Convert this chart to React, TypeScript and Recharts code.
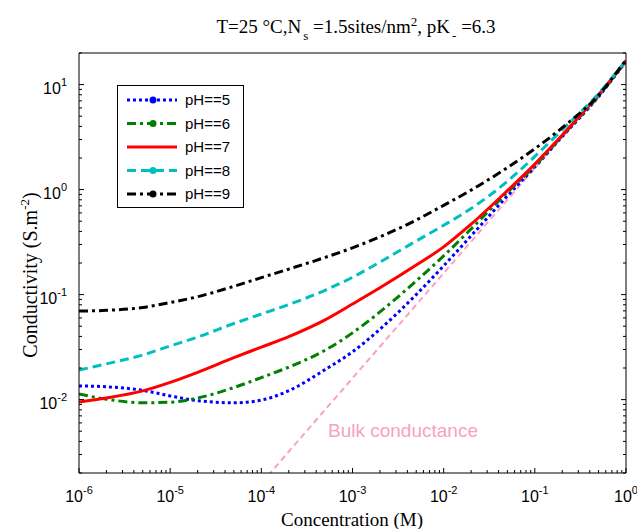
import React from 'react';
import { LineChart, Line, XAxis, YAxis, Legend } from 'recharts';

// concentration (M) at which the curves were read
const concentration = [1e-6, 2e-6, 5e-6, 1e-5, 2e-5, 5e-5, 1e-4, 2e-4, 5e-4, 1e-3, 2e-3, 5e-3, 1e-2, 2e-2, 5e-2, 0.1, 0.2, 0.5, 1];

// conductivity (S.m^-2) per pH
const ph5 = [0.0135, 0.01325, 0.01225, 0.01084, 0.00977, 0.00933, 0.00989, 0.01216, 0.0193, 0.0285, 0.0468, 0.1, 0.188, 0.363, 0.871, 1.64, 3.2, 7.67, 16.7];
const ph6 = [0.0113, 0.0101, 0.00933, 0.00944, 0.01035, 0.01303, 0.0162, 0.0204, 0.0295, 0.0432, 0.0684, 0.135, 0.234, 0.422, 0.944, 1.68, 3.25, 7.8, 16.8];
const ph7 = [0.00948, 0.01035, 0.0121, 0.0146, 0.0182, 0.0251, 0.0316, 0.0398, 0.0575, 0.0813, 0.116, 0.191, 0.285, 0.468, 0.977, 1.75, 3.31, 8.0, 16.9];
const ph8 = [0.0191, 0.0219, 0.0266, 0.0324, 0.0394, 0.0531, 0.0653, 0.0804, 0.11, 0.146, 0.204, 0.324, 0.457, 0.661, 1.2, 2.07, 3.72, 8.22, 17.0];
const ph9 = [0.0698, 0.0708, 0.0755, 0.0841, 0.0955, 0.12, 0.145, 0.175, 0.226, 0.279, 0.355, 0.513, 0.708, 0.989, 1.62, 2.45, 3.89, 7.94, 17.2];

// bulk conductance line
const bulkConcentration = [1e-4, 1e-3, 1e-2, 1e-1, 1];
const bulkConductivity = [0.0016, 0.016, 0.16, 1.6, 16];

const seriesKeys = ['ph5', 'ph6', 'ph7', 'ph8', 'ph9'];
const seriesNames = ['pH==5', 'pH==6', 'pH==7', 'pH==8', 'pH==9'];
const seriesColors = ['#0000ff', '#008000', '#ff0000', '#00bfbf', '#000000'];
const seriesDash = ['3 3', '9 4 3 4', undefined, '9 5', '9 4 3 4'];
const seriesMarker = [true, true, false, true, true];

const xMajor = [1e-6, 1e-5, 1e-4, 1e-3, 1e-2, 1e-1, 1];
const xMajorExp = ['-6', '-5', '-4', '-3', '-2', '-1', '0'];
const yMajor = [0.01, 0.1, 1, 10];
const yMajorExp = ['-2', '-1', '0', '1'];

const data = concentration.map((c, i) => ({ c, ph5: ph5[i], ph6: ph6[i], ph7: ph7[i], ph8: ph8[i], ph9: ph9[i] }));
const bulkData = bulkConcentration.map((c, i) => ({ c, bulk: bulkConductivity[i] }));

function minorTicks(decades: number[], max: number) {
  const out: number[] = [];
  decades.forEach((d) => {
    for (let m = 2; m <= 9; m++) {
      const v = m * Math.pow(10, d);
      if (v <= max * 1.0001) out.push(v);
    }
  });
  return out;
}

const xTicks = [...xMajor, ...minorTicks([-6, -5, -4, -3, -2, -1], 1)];
const yTicks = [...yMajor, ...minorTicks([-3, -2, -1, 0, 1], 20)];

const majorIndex = (list: number[], v: number) =>
  list.findIndex((m) => Math.abs(Math.log10(m) - Math.log10(v)) < 1e-6);

const sans = 'Liberation Sans, Arial, sans-serif';
const serif = 'Liberation Serif, Times New Roman, serif';

const XTick = (side: 'bottom' | 'top') => (props: any) => {
  const { x, y, payload } = props;
  const i = majorIndex(xMajor, payload.value);
  const len = i >= 0 ? 5 : 3;
  const dir = side === 'bottom' ? -1 : 1;
  return (
    <g>
      <line x1={x} x2={x} y1={y} y2={y + dir * len} stroke="#000" />
      {side === 'bottom' && i >= 0 && (
        <text x={x} y={y + 29} textAnchor="middle" fontSize={16} fontFamily={sans} fill="#000">
          10<tspan dy={-8} fontSize={11}>{xMajorExp[i]}</tspan>
        </text>
      )}
    </g>
  );
};

const YTick = (side: 'left' | 'right') => (props: any) => {
  const { x, y, payload } = props;
  const i = majorIndex(yMajor, payload.value);
  const len = i >= 0 ? 5 : 3;
  const dir = side === 'left' ? 1 : -1;
  return (
    <g>
      <line x1={x} x2={x + dir * len} y1={y} y2={y} stroke="#000" />
      {side === 'left' && i >= 0 && (
        <text x={x - 12} y={y + 9} textAnchor="end" fontSize={16} fontFamily={sans} fill="#000">
          10<tspan dy={-8} fontSize={11}>{yMajorExp[i]}</tspan>
        </text>
      )}
    </g>
  );
};

function LegendBox() {
  return (
    <svg width={128} height={124} style={{ display: 'block' }}>
      <rect x={0.5} y={0.5} width={126} height={122} fill="#fff" stroke="#000" />
      {seriesNames.map((name, i) => {
        const y = 15 + i * 23.5;
        return (
          <g key={name}>
            <line x1={10} x2={60} y1={y} y2={y} stroke={seriesColors[i]} strokeWidth={3} strokeDasharray={seriesDash[i]} />
            {seriesMarker[i] && <circle cx={36} cy={y} r={3.5} fill={seriesColors[i]} />}
            <text x={68} y={y + 5} fontSize={15} fontFamily={sans} fill="#000">{name}</text>
          </g>
        );
      })}
    </svg>
  );
}

export default function App() {
  return (
    <div style={{ position: 'absolute', left: 0, top: 0, background: '#fff' }}>
      <LineChart width={637} height={529} data={data} margin={{ top: 0, right: 0, bottom: 0, left: 0 }}>
        <XAxis
          xAxisId="b"
          dataKey="c"
          type="number"
          scale="log"
          domain={[1e-6, 1]}
          allowDataOverflow
          ticks={xTicks}
          interval={0}
          tickSize={0}
          tickMargin={0}
          tickLine={false}
          tick={XTick('bottom')}
          height={56}
          axisLine={{ stroke: '#000' }}
        />
        <XAxis
          xAxisId="t"
          orientation="top"
          type="number"
          scale="log"
          domain={[1e-6, 1]}
          allowDataOverflow
          ticks={xTicks}
          interval={0}
          tickSize={0}
          tickMargin={0}
          tickLine={false}
          tick={XTick('top')}
          height={53}
          axisLine={{ stroke: '#000' }}
        />
        <YAxis
          yAxisId="l"
          type="number"
          scale="log"
          domain={[0.002, 20]}
          allowDataOverflow
          ticks={yTicks}
          interval={0}
          tickSize={0}
          tickMargin={0}
          tickLine={false}
          tick={YTick('left')}
          width={79}
          axisLine={{ stroke: '#000' }}
        />
        <YAxis
          yAxisId="r"
          orientation="right"
          type="number"
          scale="log"
          domain={[0.002, 20]}
          allowDataOverflow
          ticks={yTicks}
          interval={0}
          tickSize={0}
          tickMargin={0}
          tickLine={false}
          tick={YTick('right')}
          width={11}
          axisLine={{ stroke: '#000' }}
        />
        <Line
          xAxisId="b"
          yAxisId="l"
          data={bulkData}
          dataKey="bulk"
          stroke="#f9a0c8"
          strokeWidth={2}
          strokeDasharray="6 4"
          dot={false}
          legendType="none"
          isAnimationActive={false}
        />
        {seriesKeys.map((k, i) => (
          <Line
            key={k}
            xAxisId="b"
            yAxisId="l"
            type="monotone"
            dataKey={k}
            name={seriesNames[i]}
            stroke={seriesColors[i]}
            strokeWidth={3}
            strokeDasharray={seriesDash[i]}
            dot={false}
            isAnimationActive={false}
          />
        ))}
        <Legend
          layout="vertical"
          align="center"
          verticalAlign="middle"
          content={LegendBox}
          wrapperStyle={{ left: 117, top: 85, width: 128, height: 124 }}
        />
        <text x={356} y={33} textAnchor="middle" fontSize={19} fontFamily={serif} fill="#000">
          T=25 °C,N<tspan dx={2} dy={7} fontSize={13}>s</tspan>
          <tspan dy={-7}> =1.5sites/nm</tspan>
          <tspan dy={-7} fontSize={13}>2</tspan>
          <tspan dy={7}>, pK</tspan>
          <tspan dx={2} dy={7} fontSize={13}>-</tspan>
          <tspan dy={-7}> =6.3</tspan>
        </text>
        <text x={352} y={526} textAnchor="middle" fontSize={19} fontFamily={serif} fill="#000">
          Concentration (M)
        </text>
        <text transform="rotate(-90)" x={-275} y={37} textAnchor="middle" fontSize={20} fontFamily={serif} fill="#000">
          Conductivity (S.m<tspan dy={-8} fontSize={13}>-2</tspan>
          <tspan dy={8}>)</tspan>
        </text>
        <text x={328} y={437} fontSize={19} fontFamily={sans} fill="#f9a0c8">
          Bulk conductance
        </text>
      </LineChart>
    </div>
  );
}
